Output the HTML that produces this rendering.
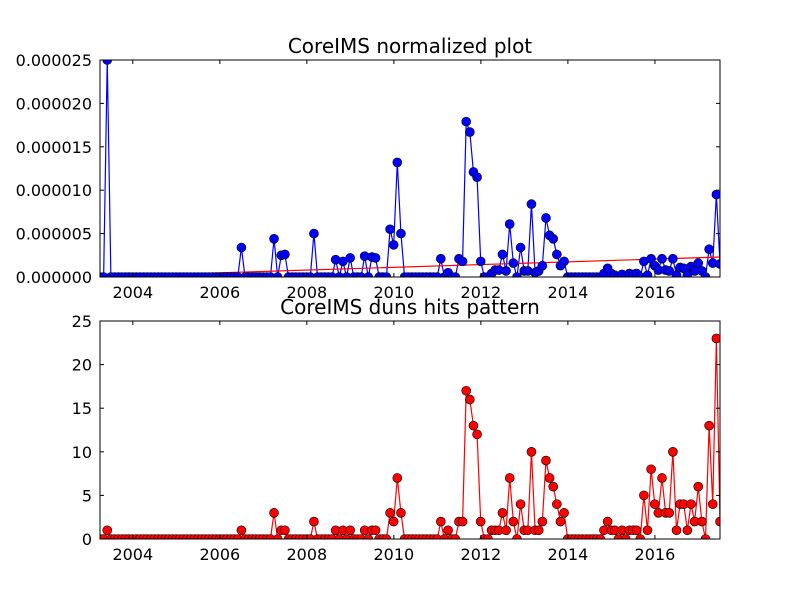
<!DOCTYPE html>
<html><head><meta charset="utf-8"><style>
html,body{margin:0;padding:0;background:#fff;}
svg{display:block;font-family:"DejaVu Sans","Liberation Sans",sans-serif;}
</style></head><body>
<svg id="chart" width="800" height="600" viewBox="0 0 800 600" xmlns="http://www.w3.org/2000/svg">
<rect width="800" height="600" fill="#fff"/>
</svg>
<script>
// month index (0 = Mar 2003) of non-zero months, total 172 months
const nMonths = 172;
const startYear = 2003.246;
const hitMonths = [2,39,48,50,51,59,65,67,69,73,75,76,80,81,82,83,94,96,99,100,101,102,103,104,105,108,109,110,111,112,113,114,116,117,118,119,120,121,122,123,124,125,126,127,128,139,140,141,142,144,146,147,148,150,151,152,153,154,155,156,157,158,159,160,161,162,163,164,165,166,168,169,170,171];
const hitValues = [1,1,3,1,1,2,1,1,1,1,1,1,3,2,7,3,2,1,2,2,17,16,13,12,2,1,1,1,3,1,7,2,4,1,1,10,1,1,2,9,7,6,4,2,3,1,2,1,1,1,1,1,1,5,1,8,4,3,7,3,3,10,1,4,4,1,4,2,6,2,13,4,23,2];
// normalized values in units of 1e-6
const normValues = [25.0,3.4,4.4,2.5,2.6,5.0,2.0,1.8,2.2,2.4,2.3,2.2,5.5,3.7,13.2,5.0,2.1,0.5,2.1,1.8,17.9,16.7,12.1,11.5,1.8,0.4,0.8,0.8,2.6,0.7,6.1,1.6,3.4,0.7,0.7,8.4,0.5,0.7,1.3,6.8,4.8,4.4,2.6,1.3,1.8,0.4,1.0,0.4,0.2,0.3,0.4,0.3,0.4,1.8,0.2,2.1,1.3,0.8,2.1,0.8,0.7,2.1,0.2,1.1,1.0,0.2,1.2,0.7,1.6,0.7,3.2,1.6,9.5,1.5];
const trendValues = [0.05, 2.3];
const xTickYears = [2004,2006,2008,2010,2012,2014,2016];
const topTicks = [0,5,10,15,20,25];
const topTickLabels = ["0.000000","0.000005","0.000010","0.000015","0.000020","0.000025"];
const botTicks = [0,5,10,15,20,25];

const NS="http://www.w3.org/2000/svg";
const svg=document.getElementById('chart');
function mk(tag,attrs,parent){const e=document.createElementNS(NS,tag);for(const k in attrs)e.setAttribute(k,attrs[k]);(parent||svg).appendChild(e);return e;}

const L=100,R=720;
const endYear = startYear + (nMonths-1)/12;
function xYear(y){return L+(y-startYear)/(endYear-startYear)*(R-L);}
function xMonth(i){return xYear(startYear+i/12);}

function series(vals){const a=new Array(nMonths).fill(0);hitMonths.forEach((m,k)=>a[m]=vals[k]);return a;}

function panel(cfg){
  const {top,bottom,ymax,ticks,tickLabels,vals,color,title,name}=cfg;
  const ys=v=>bottom-(v/ymax)*(bottom-top);
  const g=mk('g',{});
  
  
  const clipId='clip-'+name;
  const cp=mk('clipPath',{id:clipId},g);
  mk('rect',{x:L,y:top,width:R-L,height:bottom-top},cp);
  const plot=mk('g',{'clip-path':'url(#'+clipId+')'},g);
  const full=series(vals);
  const pts=full.map((v,i)=>xMonth(i).toFixed(2)+','+ys(v).toFixed(2)).join(' ');
  const line=mk('polyline',{points:pts,fill:'none',stroke:color,'stroke-width':1.2},plot);
  
  
  if(cfg.trend){
    const t=mk('line',{x1:xMonth(0),y1:ys(cfg.trend[0]),x2:xMonth(nMonths-1),y2:ys(cfg.trend[1]),stroke:'#ff0000','stroke-width':1.2},plot);
    
    
  }
  full.forEach((v,i)=>{
    const c=mk('circle',{cx:xMonth(i),cy:ys(v),r:4.5,fill:color,stroke:'#000','stroke-width':0.6},plot);
    
    
  });
  const fr=mk('rect',{x:L,y:top,width:R-L,height:bottom-top,fill:'none',stroke:'#000','stroke-width':1},g);
  
  
  ticks.forEach((t,i)=>{
    const y=ys(t);
    mk('line',{x1:L,y1:y,x2:L+4,y2:y,stroke:'#000'},g);
    mk('line',{x1:R,y1:y,x2:R-4,y2:y,stroke:'#000'},g);
    const tx=mk('text',{x:L-8,y:y+6,'text-anchor':'end','font-size':16,fill:'#000'},g);
    tx.textContent=tickLabels[i];
    
    
  });
  xTickYears.forEach(yr=>{
    const x=xYear(yr);
    mk('line',{x1:x,y1:bottom,x2:x,y2:bottom-4,stroke:'#000'},g);
    mk('line',{x1:x,y1:top,x2:x,y2:top+4,stroke:'#000'},g);
    const tx=mk('text',{x:x,y:bottom+21,'text-anchor':'middle','font-size':16,fill:'#000'},g);
    tx.textContent=String(yr);
    
    
  });
  const ti=mk('text',{x:(L+R)/2,y:top-7,'text-anchor':'middle','font-size':20,fill:'#000'},g);
  ti.textContent=title;
  
  
}
panel({top:60,bottom:277,ymax:25,ticks:topTicks,tickLabels:topTickLabels,vals:normValues,color:'#0000ff',title:'CoreIMS normalized plot',name:'normalized',trend:trendValues});
panel({top:321,bottom:539,ymax:25,ticks:botTicks,tickLabels:botTicks.map(String),vals:hitValues,color:'#ff0000',title:'CoreIMS duns hits pattern',name:'hits'});
</script>
</body></html>
